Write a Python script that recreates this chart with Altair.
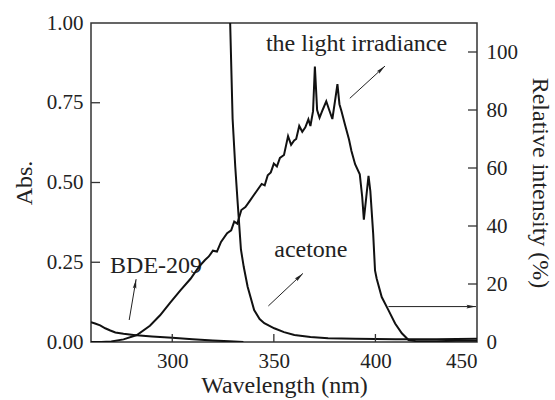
import math
import altair as alt
import pandas as pd

# ---------------- data ----------------
# light irradiance (relative intensity, %)
irr_wl = [260, 265, 270, 276, 282.6, 289, 294, 299, 304, 309, 313, 316, 318, 320, 322, 324,
          327, 329, 330.5, 332, 334, 336, 338, 340, 342, 344, 345.5, 347, 348.5, 350, 351.5,
          353, 355, 357, 358.5, 360, 361, 362.5, 364, 365.5, 367, 368, 369.3, 370.2, 371.3,
          372.5, 374, 375.8, 377, 378.8, 380.3, 381.3, 382.3, 383.3, 385, 387, 388.2, 390,
          392.3, 393.5, 394.3, 395.5, 396.6, 397.5, 398.9, 399.8, 400.6, 403.1, 406.4, 409.7,
          413, 416.3, 420, 430, 440, 450]
irr_val = [0, 0, 0.2, 0.9, 2.4, 5.6, 9.2, 13.6, 17.8, 21.8, 25.8, 28.2, 29.5, 31.5, 31.2, 34.5,
           37.5, 38.5, 41.5, 40.8, 45.5, 46.5, 48.5, 50.5, 52.5, 54.5, 54, 57.5, 58.5, 61.5, 60.5,
           63.5, 64.5, 71, 68, 69.5, 70, 74.5, 72.5, 74, 76.8, 74.5, 79.6, 95, 80,
           77.3, 80, 83, 80.5, 76.9, 84, 88.9, 82, 79.6, 75, 69.8, 65.9, 61.3,
           57.8, 50, 42.2, 50, 57.3, 52, 37.3, 24.7, 21.9, 15.5, 11, 6.4,
           3, 0.7, 0.3, 0.3, 0.4, 0.4]

# acetone absorbance
ace_wl = [327.9, 328.5, 329.7, 331, 332.1, 333.8, 335.2, 337.1, 340.3, 343, 345.3, 350.2,
          355, 360.1, 368, 376.7, 390, 410, 430, 450]
ace_abs = [1.1, 1.0, 0.70, 0.55, 0.445, 0.29, 0.235, 0.173, 0.100, 0.072, 0.059, 0.043,
           0.031, 0.022, 0.016, 0.012, 0.010, 0.009, 0.009, 0.010]

# BDE-209 absorbance
bde_wl = [260, 262, 264.5, 267, 269.5, 272, 276, 280, 284, 290, 300, 310, 320, 328, 335]
bde_abs = [0.062, 0.058, 0.052, 0.043, 0.036, 0.030, 0.026, 0.023, 0.020, 0.017, 0.013,
           0.009, 0.005, 0.002, 0.0]

# axes
x_ticks = [300, 350, 400, 450]
abs_ticks = [0.0, 0.25, 0.50, 0.75, 1.00]
int_ticks = [0, 20, 40, 60, 80, 100]

# annotations (in wavelength / absorbance units)
label_text = ["the light irradiance", "acetone", "BDE-209"]
label_wl = [346.1, 350.2, 269.4]
label_abs = [0.913, 0.266, 0.217]

arrow_wl0 = [278.8, 347.3, 387.4, 406.4]
arrow_abs0 = [0.069, 0.113, 0.764, 0.111]
arrow_wl1 = [282.2, 364.3, 404.7, 449.5]
arrow_abs1 = [0.197, 0.215, 0.865, 0.111]

# ---------------- layout ----------------
W, H = 386, 319
XD = [260, 450]
AD = [0, 1]
ID = [0, 110]
FONT = "Liberation Serif"
INK = "#111111"
AX = "#333333"

xs = alt.Scale(domain=XD, nice=False, zero=False)
ys_abs = alt.Scale(domain=AD, nice=False, zero=False)
ys_int = alt.Scale(domain=ID, nice=False, zero=False)

irr = pd.DataFrame({"wl": irr_wl, "v": irr_val})
ace = pd.DataFrame({"wl": ace_wl, "a": ace_abs})
bde = pd.DataFrame({"wl": bde_wl, "a": bde_abs})

x_axis = alt.Axis(values=x_ticks, tickSize=0, domain=False, grid=False,
                  labelFont=FONT, labelFontSize=21, labelColor="#222", labelPadding=8,
                  title="Wavelength (nm)", titleFont=FONT, titleFontSize=24,
                  titleFontWeight="normal", titleColor="#222", titlePadding=2)
left_axis = alt.Axis(values=abs_ticks, format=".2f", tickSize=0, domain=False, grid=False,
                     labelFont=FONT, labelFontSize=21, labelColor="#222", labelPadding=8,
                     title="Abs.", titleFont=FONT, titleFontSize=24,
                     titleFontWeight="normal", titleColor="#222", titlePadding=10)
right_axis = alt.Axis(values=int_ticks, orient="right", tickSize=0, domain=False, grid=False,
                      labelFont=FONT, labelFontSize=21, labelColor="#222", labelPadding=9,
                      title="Relative intensity (%)", titleFont=FONT, titleFontSize=24,
                      titleFontWeight="normal", titleColor="#222", titlePadding=10)

bde_line = alt.Chart(bde).mark_line(color=INK, strokeWidth=2, clip=True).encode(
    x=alt.X("wl:Q", scale=xs, axis=x_axis),
    y=alt.Y("a:Q", scale=ys_abs, axis=left_axis),
)
ace_line = alt.Chart(ace).mark_line(color=INK, strokeWidth=2, clip=True).encode(
    x=alt.X("wl:Q", scale=xs),
    y=alt.Y("a:Q", scale=ys_abs),
)
irr_line = alt.Chart(irr).mark_line(color=INK, strokeWidth=2, clip=True).encode(
    x=alt.X("wl:Q", scale=xs),
    y=alt.Y("v:Q", scale=ys_int, axis=right_axis),
)

# inward tick marks
xt = pd.DataFrame({"t": x_ticks[:-1]})
x_tick_rules = alt.Chart(xt).mark_rule(color=AX, strokeWidth=1.3).encode(
    x=alt.X("t:Q", scale=xs), y=alt.value(H), y2=alt.value(H - 8))
lt = pd.DataFrame({"t": abs_ticks[1:-1]})
l_tick_rules = alt.Chart(lt).mark_rule(color=AX, strokeWidth=1.3).encode(
    y=alt.Y("t:Q", scale=ys_abs), x=alt.value(0), x2=alt.value(9))
rt = pd.DataFrame({"t": int_ticks[1:]})
r_tick_rules = alt.Chart(rt).mark_rule(color=AX, strokeWidth=1.3).encode(
    y=alt.Y("t:Q", scale=ys_int), x=alt.value(W), x2=alt.value(W - 9))

# annotation text
lab = pd.DataFrame({"text": label_text, "wl": label_wl, "a": label_abs})
labels = alt.Chart(lab).mark_text(font=FONT, fontSize=24, color="#222", align="left",
                                  baseline="alphabetic").encode(
    x=alt.X("wl:Q", scale=xs), y=alt.Y("a:Q", scale=ys_abs), text="text:N")

# arrows
angles = []
for a0, b0, a1, b1 in zip(arrow_wl0, arrow_abs0, arrow_wl1, arrow_abs1):
    dx = (a1 - a0) * W / (XD[1] - XD[0])
    dy = -(b1 - b0) * H / (AD[1] - AD[0])
    angles.append(math.degrees(math.atan2(dx, -dy)) % 360)
arr = pd.DataFrame({"x0": arrow_wl0, "y0": arrow_abs0, "x1": arrow_wl1, "y1": arrow_abs1,
                    "ang": angles})
shafts = alt.Chart(arr).mark_rule(color="#222", strokeWidth=1).encode(
    x=alt.X("x0:Q", scale=xs), y=alt.Y("y0:Q", scale=ys_abs),
    x2="x1:Q", y2="y1:Q")
heads = alt.Chart(arr).mark_point(shape="M0,0L-0.38,2L0,1.7L0.38,2Z", filled=True,
                                  color="#222", opacity=1, size=90, strokeWidth=0).encode(
    x=alt.X("x1:Q", scale=xs), y=alt.Y("y1:Q", scale=ys_abs),
    angle=alt.Angle("ang:Q", scale=None))

abs_layer = alt.layer(bde_line, ace_line, l_tick_rules, x_tick_rules, labels, shafts, heads)
int_layer = alt.layer(irr_line, r_tick_rules)

chart = alt.layer(abs_layer, int_layer).resolve_scale(y="independent").properties(
    width=W, height=H,
    autosize=alt.AutoSizeParams(type="none"),
    padding={"left": 91, "top": 23, "right": 555 - 91 - W, "bottom": 400 - 23 - H},
    background="white",
).configure_view(stroke=AX, strokeWidth=1.5)

chart.save("out.html", embed_options={"renderer": "svg", "actions": False})
